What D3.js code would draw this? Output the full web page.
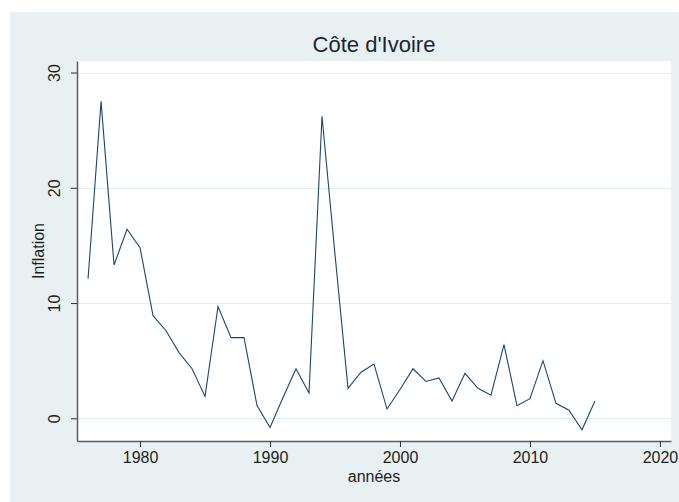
<!DOCTYPE html>
<html lang="fr">
<head>
  <meta charset="utf-8">
  <title>Côte d'Ivoire</title>
  <style>
    html, body { margin: 0; padding: 0; background: #fff; }
    svg { display: block; font-family: "Liberation Sans", Arial, sans-serif; }
  </style>
</head>
<body>
  <div id="chart"></div>

  <script src="https://cdn.jsdelivr.net/npm/d3@7"></script>
  <script>
    var years = [1976, 1977, 1978, 1979, 1980, 1981, 1982, 1983, 1984, 1985,
                 1986, 1987, 1988, 1989, 1990, 1991, 1992, 1993, 1994, 1995,
                 1996, 1997, 1998, 1999, 2000, 2001, 2002, 2003, 2004, 2005,
                 2006, 2007, 2008, 2009, 2010, 2011, 2012, 2013, 2014, 2015];
    var inflation = [12.1, 27.5, 13.3, 16.4, 14.8, 8.9, 7.6, 5.7, 4.3, 1.9,
                     9.7, 7.0, 7.0, 1.1, -0.8, 1.8, 4.3, 2.2, 26.2, 14.2,
                     2.6, 4.0, 4.7, 0.8, 2.5, 4.3, 3.2, 3.5, 1.5, 3.9,
                     2.6, 2.0, 6.4, 1.1, 1.7, 5.0, 1.3, 0.7, -1.0, 1.5];
    var xTicks = [1980, 1990, 2000, 2010, 2020];
    var yTicks = [0, 10, 20, 30];

    var width = 679,
        height = 502;
    var plot = { left: 77, right: 671, top: 61, bottom: 441 };

    var svg = d3.select("#chart")
        .append("svg")
        .attr("width", width)
        .attr("height", height);

    // graph region background
    svg.append("rect")
        .attr("x", 10).attr("y", 12)
        .attr("width", width - 10).attr("height", height - 12)
        .attr("fill", "#e8f0f2");

    svg.append("rect")
        .attr("x", plot.left).attr("y", plot.top)
        .attr("width", plot.right - plot.left)
        .attr("height", plot.bottom - plot.top)
        .attr("fill", "#fff");

    var x = d3.scaleLinear()
        .domain([1975.15, 2020.85])
        .range([plot.left, plot.right]);

    var y = d3.scaleLinear()
        .domain([-1.97, 31.0])
        .range([plot.bottom, plot.top]);

    // grid
    svg.append("g")
      .selectAll("line")
      .data(yTicks)
      .enter().append("line")
        .attr("x1", plot.left).attr("x2", plot.right)
        .attr("y1", function(d) { return Math.round(y(d)) + 0.5; })
        .attr("y2", function(d) { return Math.round(y(d)) + 0.5; })
        .attr("stroke", "#e3ecef")
        .attr("stroke-width", 1);

    // axes
    var xAxis = svg.append("g")
        .attr("transform", "translate(0," + plot.bottom + ")")
        .call(d3.axisBottom(x).tickValues(xTicks).tickFormat(d3.format("d")).tickSize(6).tickPadding(5).tickSizeOuter(0));

    var yAxis = svg.append("g")
        .attr("transform", "translate(" + plot.left + ",0)")
        .call(d3.axisLeft(y).tickValues(yTicks).tickSize(6).tickSizeOuter(0));

    [xAxis, yAxis].forEach(function(g) {
      g.select(".domain").attr("stroke", "#5c5c5c").attr("stroke-width", 1.5);
      g.selectAll(".tick line").attr("stroke", "#333");
      g.selectAll("text").attr("fill", "#1e1e1e").attr("font-size", 16);
    });

    // rotated y tick labels like the original
    yAxis.selectAll(".tick text")
        .attr("x", null).attr("dy", null)
        .attr("text-anchor", "middle")
        .attr("transform", "translate(-17,0) rotate(-90)");

    // series
    var line = d3.line()
        .x(function(d, i) { return x(years[i]); })
        .y(function(d) { return y(d); });

    svg.append("path")
        .datum(inflation)
        .attr("d", line)
        .attr("fill", "none")
        .attr("stroke", "#1a476f")
        .attr("stroke-width", 1.1)
        .attr("stroke-linejoin", "miter");

    // titles
    svg.append("text")
        .attr("x", (plot.left + plot.right) / 2)
        .attr("y", 52)
        .attr("text-anchor", "middle")
        .attr("font-size", 22)
        .attr("fill", "#1c2633")
        .text("Côte d'Ivoire");

    svg.append("text")
        .attr("x", (plot.left + plot.right) / 2)
        .attr("y", 482)
        .attr("text-anchor", "middle")
        .attr("font-size", 16)
        .attr("fill", "#1e1e1e")
        .text("années");

    svg.append("text")
        .attr("transform", "translate(44," + (plot.top + plot.bottom) / 2 + ") rotate(-90)")
        .attr("text-anchor", "middle")
        .attr("font-size", 16)
        .attr("fill", "#1e1e1e")
        .text("Inflation");
  </script>
</body>
</html>
